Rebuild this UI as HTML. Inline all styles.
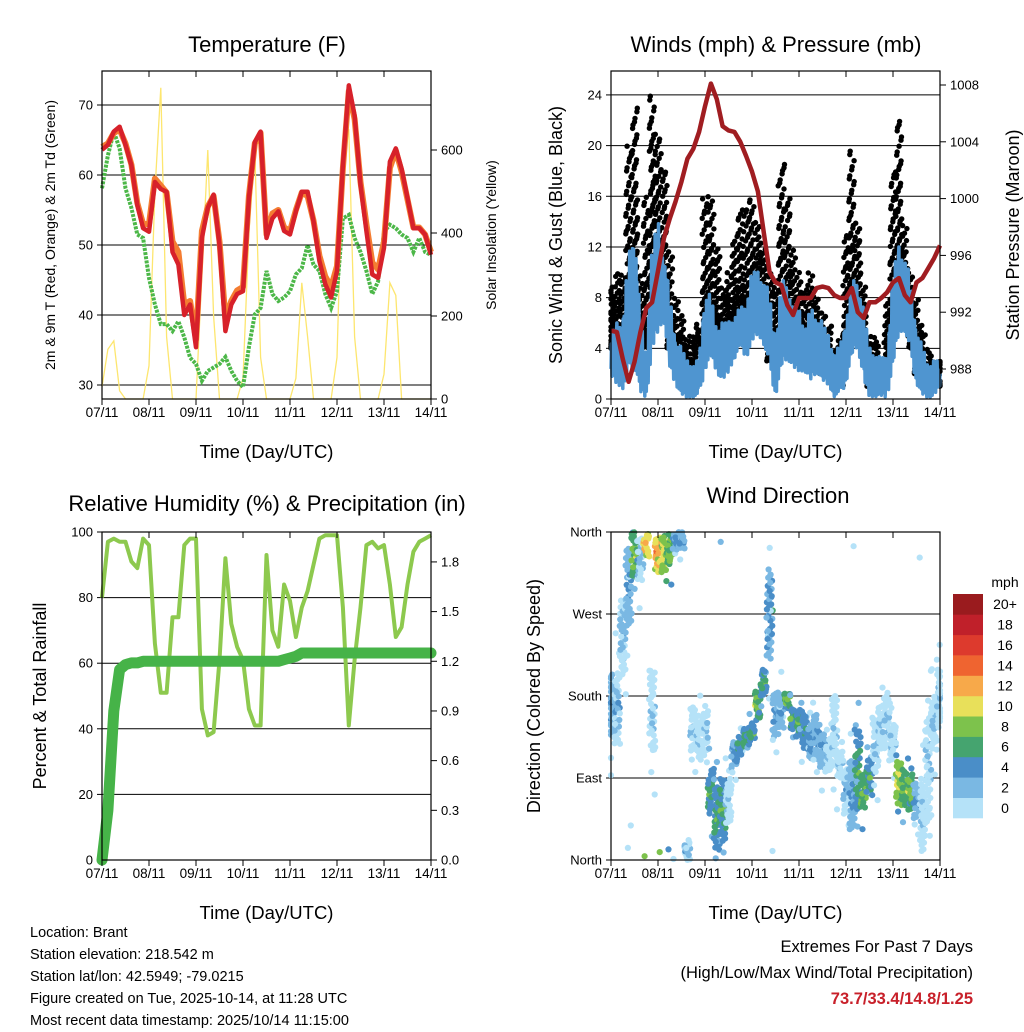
<!DOCTYPE html>
<html><head><meta charset="utf-8"><style>
html,body{margin:0;padding:0;background:#fff;}
svg{display:block;font-family:"Liberation Sans",sans-serif;}
</style></head><body>
<svg id="s" width="1024" height="1024" viewBox="0 0 1024 1024" xmlns="http://www.w3.org/2000/svg">
<rect width="1024" height="1024" fill="#fff"/>
</svg>
<script>
// ---- data (3-hourly samples from 07/11 00 UTC to 14/11 00 UTC) ----
const dayLabels = ["07/11","08/11","09/11","10/11","11/11","12/11","13/11","14/11"];
const tempRed = [63.6,64.3,66.2,66.9,64.3,61.4,55.7,52.4, 51.9,59,58,57.6,49,47.2,40,41.5, 35.4,51,55.3,57.2,50,37.7,41.5,43, 43.4,56.7,64.7,66.2,51,53.8,54.8,52, 51.5,54.8,57.6,57.6,53.4,47.7,44.4,42.5, 46.3,61.4,72.8,68.5,58.6,52,45.8,45.3, 49.6,61.9,63.8,60.9,56.7,52.4,52.4,51.5,48.6];
const tempOrange = [64,64.5,66,66.5,64.5,61.5,56,53, 53,59.5,58.5,57.5,50.5,49,41.5,42, 36.5,52,55.5,57,50.5,39.5,42,43.5, 44,57,64.5,66,51.5,54.5,55,52.5, 52,55,57.5,57,53.5,48.5,45.5,44, 47,61,72,68,59,53,47.5,46.5, 50.5,61,63.5,60.5,56.5,52.5,52.5,51.5,49];
const dewGreen = [58.1,62.8,66.2,63.8,58.1,55.3,51.5,51, 45.3,41.5,38.7,38.7,37.7,39.1,36.8,33.9, 33,30.6,32,32.5,33,34,32,30.6, 29.7,35.4,40.1,41,46.3,43,42,42.5, 43.4,45.8,46.7,50,47.2,46.3,43,41, 43.4,53.8,54.3,51,49,46.3,43,44.8, 51.9,52.9,52.4,51.5,51,49,51,49,48.6];
const solar = [30,120,140,20,0,0,0,0, 80,500,750,150,0,0,0,0, 0,300,600,200,0,0,0,0, 50,400,600,100,0,0,0,0, 0,50,280,150,0,0,0,0, 100,600,650,150,0,0,0,0, 60,280,250,0,0,0,0,0,0];
const windLo = [1.5,1,0.5,1,2,0,0,3, 5,6,2,1,0,0,0,0, 2,3,2,1,2,3,4,3, 4,5,4,2,0,2,3,2, 2,2,1,2,1,1,0,0, 1,3,4,1,0,0,0,0, 2,5,5,3,1,0,0,0,1];
const windHi = [5,6,7,11,15,6,4,12, 14,12,8,5,4,3,3,3, 9,8,6,6,6,7,7,8, 10,10,10,8,5,9,10,7, 7,6,7,7,6,5,4,4, 7,9,10,7,4,4,3,4, 10,12,12,9,6,4,3,3,3];
const gustLo = [4,4,4,6,8,3,4,8, 10,8,4,3,2,2,2,4, 5,6,5,3,5,6,6,6, 6,8,6,3,3,5,6,5, 3,4,3,3,2,2,1,1, 4,6,6,4,1,1,1,2, 5,8,7,4,2,2,1,1,1];
const gustHi = [9,10,10,20,23,10,16,24, 21,18,12,8,7,5,5,6, 16,16,12,9,10,13,15,15, 16,14,12,10,9,19,16,12, 10,9,10,8,7,6,4,5, 13,20,14,9,5,5,3,8, 18,22,14,10,8,6,4,3,3];
const pressure = [990.7,990.6,988.7,987.1,988.5,990.6,992.3,992.7, 994.9,997.2,998.6,999.8,1001.2,1002.8,1003.5,1004.7, 1006.5,1008.1,1007,1005.1,1004.8,1004.7,1004,1003, 1001.9,1000.5,997.6,994.8,994.1,993.9,992.5,991.8, 993,993,993,993.7,993.8,993.7,993.2,993, 993,993.7,992,991.6,992.7,992.7,993,993.4, 994.1,994.4,993.2,992.7,994.1,994.4,995.1,995.8,996.7];
const rh = [80,97,98,97,97,91,89,98, 96,66,51,51,74,74,96,98, 98,46,38,39,61,92,72,65, 61,46,41,41,93,70,65,84, 79,68,77,82,90,98,99,99, 99,77,41,61,77,96,97,95, 96,84,68,71,84,94,97,98,99];
const precip = [0,0.3,0.9,1.15,1.18,1.19,1.19,1.2, 1.2,1.2,1.2,1.2,1.2,1.2,1.2,1.2, 1.2,1.2,1.2,1.2,1.2,1.2,1.2,1.2, 1.2,1.2,1.2,1.2,1.2,1.2,1.2,1.21, 1.22,1.23,1.25,1.25,1.25,1.25,1.25,1.25, 1.25,1.25,1.25,1.25,1.25,1.25,1.25,1.25, 1.25,1.25,1.25,1.25,1.25,1.25,1.25,1.25,1.25];
const dirCenter = [170,165,245,300,335,330,345,165, 335,335,340,350,350,10,145,135, 140,75,45,55,65,115,125,135, 140,170,195,270,160,165,175,155, 150,140,130,135,120,115,140,105, 75,70,100,75,90,125,145,150, 130,85,80,75,65,50,100,150,180];
const dirSpread = [35,40,40,45,25,25,12,45, 20,20,18,10,10,10,25,25, 25,25,35,35,25,15,10,10, 10,15,15,50,25,20,8,12, 15,20,20,25,20,18,40,15, 25,40,45,20,20,30,25,30, 20,25,20,20,20,40,60,30,30];
const dirSpeed = [4,3,3,4,9,3,13,2, 13,11,9,5,4,3,2,2, 2,7,7,7,2,5,6,7, 7,9,7,5,4,4,9,7, 7,6,5,4,4,2,2,2, 3,4,7,9,7,2,2,2, 2,10,8,9,4,2,2,2,2];

// ---- helpers ----
const svg = document.getElementById('s');
const NS = 'http://www.w3.org/2000/svg';
function mk(tag, attrs, parent){ const e=document.createElementNS(NS,tag); for(const k in attrs) e.setAttribute(k,attrs[k]); (parent||svg).appendChild(e); return e; }
function txt(str,x,y,size,anchor,parent,extra){ const t=mk('text',Object.assign({x:x,y:y,'font-size':size,'text-anchor':anchor||'start',fill:'#000'},extra||{}),parent); t.textContent=str; return t; }
const N = tempRed.length;
function hour(i){ return i*3; }
function xs(x0){ return h => x0 + h/168*329; }
function pathD(vals, X, Y){ return vals.map((v,i)=>(i?'L':'M')+X(hour(i)).toFixed(1)+','+Y(v).toFixed(1)).join(''); }
function frac(a){ return a-Math.floor(a); }
const speedColors = ['#b5e2f8','#7ab8e3','#4a8ec8','#45a46f','#7dc24c','#e8e05a','#f7a94a','#ef6430','#dd3a2d','#c0202a','#9a1b1e'];
const speedLabels = ['0','2','4','6','8','10','12','14','16','18','20+'];
function spdColor(s){ return speedColors[Math.min(10,Math.max(0,Math.floor(s/2)))]; }

function frame(x0,y0,name){
  const g = mk('g',{});
  
  
  mk('rect',{x:x0,y:y0,width:329,height:328,fill:'none',stroke:'#000','stroke-width':1.2},g);
  const X = xs(x0);
  dayLabels.forEach((d,k)=>{
    const x = X(k*24);
    mk('line',{x1:x,y1:y0,x2:x,y2:y0+6,stroke:'#000'},g);
    mk('line',{x1:x,y1:y0+328,x2:x,y2:y0+334,stroke:'#000'},g);
    const t = txt(d,x,y0+346,13.5,'middle',g);
    
    
  });
  const xt = txt('Time (Day/UTC)',x0+164.5,y0+387,18.5,'middle',g);
  
  
  return X;
}
function hgrid(x0,y,g){ mk('line',{x1:x0,y1:y,x2:x0+329,y2:y,stroke:'#000','stroke-width':1},g); }
function leftTick(x0,y,label,g,size){ mk('line',{x1:x0-5,y1:y,x2:x0,y2:y,stroke:'#000'},g); const t=txt(label,x0-9,y+4.5,size||13,'end',g);   }
function rightTick(x1,y,label,g){ mk('line',{x1:x1,y1:y,x2:x1+6,y2:y,stroke:'#000'},g); const t=txt(label,x1+10,y+4.5,13,'start',g);   }
function vtitle(str,x,y,size,name){ const t=txt(str,x,y,size,'middle',null,{transform:'rotate(-90 '+x+' '+y+')'});   }
function title(str,x,y,name){ const t=txt(str,x,y,22,'middle');   }

// ===== Panel 1: Temperature =====
(function(){
  const x0=102,y0=71;
  const g = mk('g',{});  
  const Ty = T => 385-(T-30)*7;
  const Sy = v => 399-v*0.415;
  const X = xs(x0);
  [30,40,50,60,70].forEach(t=>{ hgrid(x0,Ty(t),g); leftTick(x0,Ty(t),String(t),g); });
  [0,200,400,600].forEach(v=>rightTick(x0+329,Sy(v),String(v),g));
  const sol = mk('path',{d:pathD(solar,X,Sy),fill:'none',stroke:'#fde66f','stroke-width':1.3},g);
   
  const dg = mk('path',{d:pathD(dewGreen,X,Ty),fill:'none',stroke:'#4cb748','stroke-width':4,'stroke-dasharray':'3 1.2'},g);
   
  const or = mk('path',{d:pathD(tempOrange,X,Ty),fill:'none',stroke:'#f47d32','stroke-width':6,'stroke-linejoin':'round'},g);
   
  const rd = mk('path',{d:pathD(tempRed,X,Ty),fill:'none',stroke:'#d7212a','stroke-width':4.5,'stroke-linejoin':'round'},g);
   
  frame(x0,y0,'temperature');
  title('Temperature (F)',267,52,'temperature-title');
  vtitle('2m & 9m T (Red, Orange) & 2m Td (Green)',55,235,14,'temperature-y-axis-title');
  vtitle('Solar Insolation (Yellow)',496,235,14,'solar-y-axis-title');
})();

// ===== Panel 2: Winds & Pressure =====
(function(){
  const x0=611,y0=71;
  const g = mk('g',{});  
  const Wy = v => 399-v*12.67;
  const Py = p => 369-(p-988)*14.2;
  const X = xs(x0);
  [0,4,8,12,16,20,24].forEach(v=>{ if(v>0) hgrid(x0,Wy(v),g); leftTick(x0,Wy(v),String(v),g); });
  [988,992,996,1000,1004,1008].forEach(p=>rightTick(x0+329,Py(p),String(p),g));
  // gust dots
  for(let i=0;i<N;i++){
    const lo=gustLo[i], hi=gustHi[i];
    const n = Math.round((hi-lo)*4)+10;
    for(let j=0;j<n;j++){
      const t = Math.pow(frac(j*0.618+i*0.37),1.6);
      const h = Math.min(168,Math.max(0,hour(i)+(frac(j*0.414+i*0.21)-0.5)*3.2));
      const c = mk('circle',{cx:X(h).toFixed(1),cy:Wy(lo+(hi-lo)*t).toFixed(1),r:2.7,fill:'#000'},g);
      
      
    }
  }
  // wind: jagged thick line sweeping between low and high values
  const pat = [0.25,0.8,0.1,0.6,0.35,1.0,0.15,0.7,0.3,0.5,0.05,0.85];
  let d='';
  const sub = 12;
  for(let i=0;i<N-1;i++){
    for(let k=0;k<sub;k++){
      const f = k/sub;
      const lo = windLo[i]*(1-f)+windLo[i+1]*f;
      const hi = windHi[i]*(1-f)+windHi[i+1]*f;
      const v = lo+(hi-lo)*pat[(k+i*5)%pat.length];
      d += (d?'L':'M')+X(hour(i)+f*3).toFixed(1)+','+Wy(v).toFixed(1);
    }
  }
  d += 'L'+X(168).toFixed(1)+','+Wy(windLo[N-1]+1).toFixed(1);
  const band = mk('path',{d:d,fill:'none',stroke:'#4f95d0','stroke-width':3.5,'stroke-linejoin':'round'},g);
   
  const pr = mk('path',{d:pathD(pressure,X,Py),fill:'none',stroke:'#a01d21','stroke-width':4.5,'stroke-linejoin':'round'},g);
   
  frame(x0,y0,'winds');
  title('Winds (mph) & Pressure (mb)',776,52,'winds-title');
  vtitle('Sonic Wind & Gust (Blue, Black)',562,235,18,'wind-y-axis-title');
  vtitle('Station Pressure (Maroon)',1019,235,18,'pressure-y-axis-title');
})();

// ===== Panel 3: RH & Precip =====
(function(){
  const x0=102,y0=532;
  const g = mk('g',{});  
  const Ry = v => 860-v*3.28;
  const Pry = p => 860-p*165.6;
  const X = xs(x0);
  [0,20,40,60,80,100].forEach(v=>{ hgrid(x0,Ry(v),g); leftTick(x0,Ry(v),String(v),g); });
  [0,0.3,0.6,0.9,1.2,1.5,1.8].forEach(p=>rightTick(x0+329,Pry(p),p.toFixed(1),g));
  const rl = mk('path',{d:pathD(rh,X,Ry),fill:'none',stroke:'#8dc94e','stroke-width':4,'stroke-linejoin':'round'},g);
   
  const pl = mk('path',{d:pathD(precip,X,Pry),fill:'none',stroke:'#46b348','stroke-width':11,'stroke-linejoin':'round','stroke-linecap':'round'},g);
   
  frame(x0,y0,'humidity');
  title('Relative Humidity (%) & Precipitation (in)',267,511,'humidity-title');
  vtitle('Percent & Total Rainfall',46,696,18,'humidity-y-axis-title');
})();

// ===== Panel 4: Wind Direction =====
(function(){
  const x0=611,y0=532;
  const g = mk('g',{});  
  const Dy = d => 860-d*328/360;
  const X = xs(x0);
  [['North',360],['West',270],['South',180],['East',90],['North',0]].forEach(([l,d])=>{ if(d>0&&d<360) hgrid(x0,Dy(d),g); leftTick(x0,Dy(d),l,g); });
  for(let i=0;i<N;i++){
    const n = Math.round(dirSpread[i]*0.6)+12;
    for(let j=0;j<n;j++){
      const u = frac(j*0.618+i*0.29)*2-1;
      let dir = dirCenter[i] + u*dirSpread[i]*(j%9===0?2.2:1);
      if(dir>360) dir-=360; if(dir<0) dir+=360;
      const h = Math.min(168,Math.max(0,hour(i)+(frac(j*0.414+i*0.13)-0.5)*3.2));
      const s = Math.max(0, dirSpeed[i] + (frac(j*0.73+i*0.5)-0.5)*4*(1-Math.abs(u)) - Math.abs(u)*2 - (j%9===0?3:0));
      const c = mk('circle',{cx:X(h).toFixed(1),cy:Dy(dir).toFixed(1),r:3.1,fill:spdColor(s)},g);
      
      
    }
  }
  frame(x0,y0,'wind-direction');
  title('Wind Direction',778,503,'wind-direction-title');
  vtitle('Direction (Colored By Speed)',540,696,18,'direction-y-axis-title');
  // colorbar
  const cb = mk('g',{});  
  const h = 224/11;
  for(let k=0;k<11;k++){
    const y = 818 - (k+1)*h;
    const r = mk('rect',{x:953,y:y.toFixed(1),width:30,height:(h+0.3).toFixed(1),fill:speedColors[k]},cb);
     
    const t = txt(speedLabels[k],1005,y+h/2+5,14,'middle',cb);
     
  }
  const u = txt('mph',1005,587,14,'middle',cb);
   
})();
</script>
<div style="position:absolute;left:0;top:0;width:1024px;height:1024px;pointer-events:none;font-family:'Liberation Sans',sans-serif;">
  <div style="position:absolute;left:30px;top:922px;font-size:14.5px;line-height:22px;color:#000;">
    <div>Location: Brant</div>
    <div>Station elevation: 218.542 m</div>
    <div>Station lat/lon: 42.5949; -79.0215</div>
    <div>Figure created on Tue, 2025-10-14, at 11:28 UTC</div>
    <div>Most recent data timestamp: 2025/10/14 11:15:00</div>
  </div>
  <div style="position:absolute;right:51px;top:934px;text-align:right;font-size:16.5px;line-height:26px;color:#000;">
    <div>Extremes For Past 7 Days</div>
    <div>(High/Low/Max Wind/Total Precipitation)</div>
    <div style="color:#c8202a;font-weight:bold;">73.7/33.4/14.8/1.25</div>
  </div>
</div>
</body></html>
